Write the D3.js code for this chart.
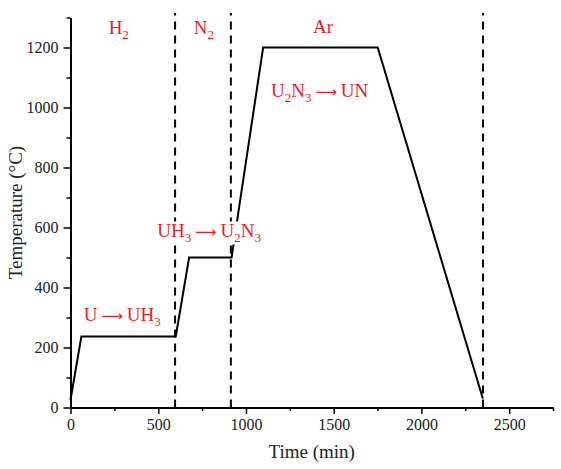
<!DOCTYPE html>
<html>
<head>
<meta charset="utf-8">
<script src="https://cdn.jsdelivr.net/npm/d3@7"></script>
<style>
	body { margin: 0; background: #fff; }
	text { font-family: 'Liberation Serif', 'Times New Roman', serif; }
	.tick text { font-size: 16px; fill: #222; }
	.label { fill: #ed1c24; font-size: 19px; }
	.arrow { font-family: 'DejaVu Sans', sans-serif; font-size: 15px; }
</style>
</head>
<body>
<div class="container"></div>
<script>
// temperature profile (time in min, temperature in °C)
var times = [0, 62, 600, 676, 918, 1098, 1751, 2350];
var temps = [25, 237, 237, 500, 500, 1200, 1200, 30];

// atmosphere switch markers
var switchTimes = [596, 914, 2351];

var xTicks = [0, 500, 1000, 1500, 2000, 2500];
var yTicks = [0, 200, 400, 600, 800, 1000, 1200];

var width = 561;
var height = 469;
var margin = { left: 70.5, right: 8, top: 17.5, bottom: 61.5 };

var svg = d3
	.select('.container')
	.append('svg')
	.attr('width', width)
	.attr('height', height);

var x = d3
	.scaleLinear()
	.domain([0, 2750])
	.range([margin.left, width - margin.right]);

var y = d3
	.scaleLinear()
	.domain([0, 1300])
	.range([height - margin.bottom, margin.top]);

// minor ticks
var xMinor = d3.range(250, 2751, 500);
var yMinor = d3.range(100, 1301, 200);

svg
	.append('g')
	.attr('transform', 'translate(0,' + y(0) + ')')
	.call(d3.axisBottom(x).tickValues(xMinor).tickSize(3.5).tickFormat(''))
	.call(function(g) {
		g.select('.domain').remove();
	});

svg
	.append('g')
	.attr('transform', 'translate(' + x(0) + ',0)')
	.call(d3.axisLeft(y).tickValues(yMinor).tickSize(4).tickFormat(''))
	.call(function(g) {
		g.select('.domain').remove();
	});

svg
	.append('g')
	.attr('transform', 'translate(0,' + y(0) + ')')
	.call(d3.axisBottom(x).tickValues(xTicks).tickFormat(d3.format('d')).tickSize(6.5).tickSizeOuter(0).tickPadding(5));

svg
	.append('g')
	.attr('transform', 'translate(' + x(0) + ',0)')
	.call(d3.axisLeft(y).tickValues(yTicks).tickFormat(d3.format('d')).tickSize(7).tickSizeOuter(0).tickPadding(5));

svg.selectAll('.domain').attr('stroke', '#000').attr('stroke-width', 2);
svg.selectAll('.tick line').attr('stroke', '#000').attr('stroke-width', 1.5);

// dashed switch lines
svg
	.append('g')
	.selectAll('line')
	.data(switchTimes)
	.enter()
	.append('line')
	.attr('x1', function(d) { return x(d); })
	.attr('x2', function(d) { return x(d); })
	.attr('y1', y(0))
	.attr('y2', y(1315))
	.attr('stroke', '#000')
	.attr('stroke-width', 2)
	.attr('stroke-dasharray', '8,6');

// profile
var line = d3
	.line()
	.x(function(d) { return x(d[0]); })
	.y(function(d) { return y(d[1]); });

svg
	.append('path')
	.datum(d3.zip(times, temps))
	.attr('d', line)
	.attr('fill', 'none')
	.attr('stroke', '#000')
	.attr('stroke-width', 2);

// axis titles
svg
	.append('text')
	.attr('x', x(1375))
	.attr('y', 458)
	.attr('text-anchor', 'middle')
	.style('font-size', '19px')
	.style('fill', '#222')
	.text('Time (min)');

svg
	.append('text')
	.attr('transform', 'translate(22,' + y(650) + ') rotate(-90)')
	.attr('text-anchor', 'middle')
	.style('font-size', '19px')
	.style('fill', '#222')
	.text('Temperature (°C)');

// red annotations; 's' = subscript, 'a' = arrow
function label(tx, ty, parts) {
	var g = svg.append('g');
	var bg = g.append('rect').attr('fill', '#fff');
	var t = g
		.append('text')
		.attr('class', 'label')
		.attr('x', x(tx))
		.attr('y', y(ty))
		.attr('text-anchor', 'middle');
	var low = false;
	parts.forEach(function(p) {
		var s = t.append('tspan').text(p[0]);
		if (p[1] == 's') {
			s.attr('dy', 5).style('font-size', '13px');
			low = true;
			return;
		}
		if (low) {
			s.attr('dy', -5);
			low = false;
		}
		if (p[1] == 'a') s.attr('class', 'arrow');
	});
	var b = t.node().getBBox();
	bg.attr('x', b.x - 1)
		.attr('y', b.y + 2)
		.attr('width', b.width + 2)
		.attr('height', b.height - 2);
}

label(275, 1245, [['H'], ['2', 's']]);
label(760, 1245, [['N'], ['2', 's']]);
label(1440, 1248, [['Ar']]);
label(1420, 1035, [['U'], ['2', 's'], ['N'], ['3', 's'], ['\u2009'], ['\u27f6', 'a'], ['\u2009UN']]);
label(790, 570, [['UH'], ['3', 's'], ['\u2009'], ['\u27f6', 'a'], ['\u2009U'], ['2', 's'], ['N'], ['3', 's']]);
label(295, 288, [['U\u2009'], ['\u27f6', 'a'], ['\u2009UH'], ['3', 's']]);
</script>
</body>
</html>
